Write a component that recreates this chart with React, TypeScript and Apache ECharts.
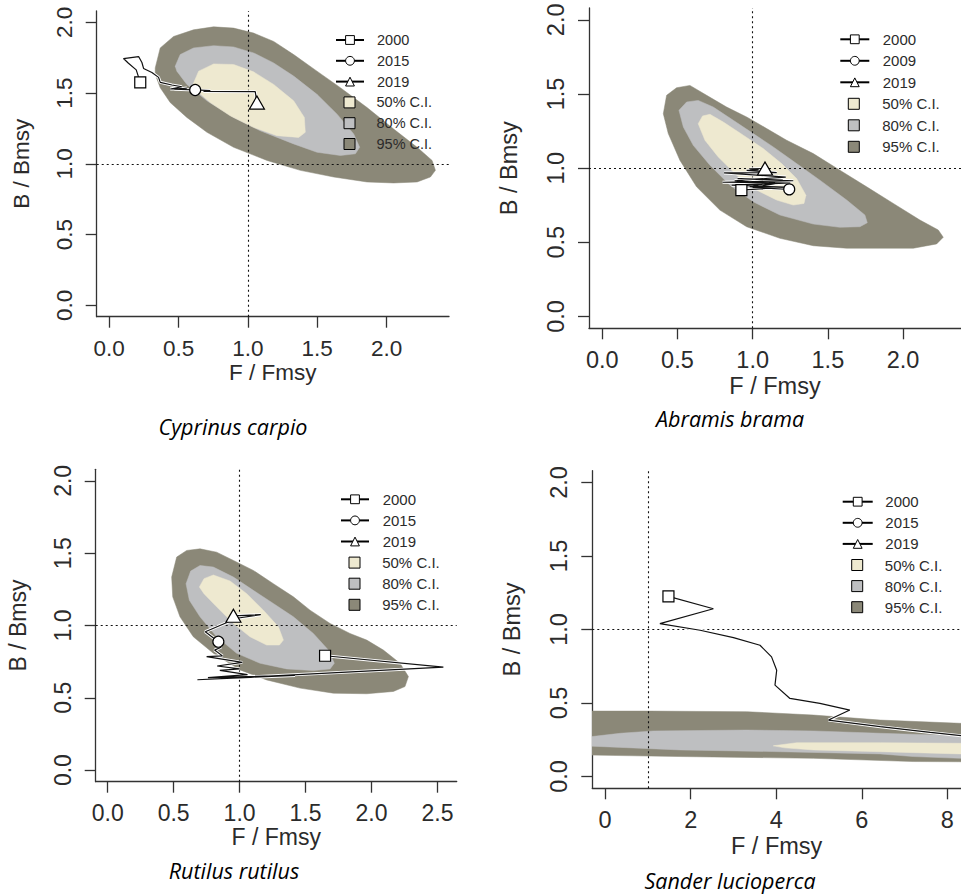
import React, { useEffect, useRef } from 'react';
import * as echarts from 'echarts';

// ---------- tick values ----------
const yTicks = [0, 0.5, 1, 1.5, 2];
const xTicksA = [0, 0.5, 1, 1.5, 2];
const xTicksB = [0, 0.5, 1, 1.5, 2];
const xTicksC = [0, 0.5, 1, 1.5, 2, 2.5];
const xTicksD = [0, 2, 4, 6, 8];

const ciNames = ['95% C.I.', '80% C.I.', '50% C.I.'];
const ciLegendOrder = ['50% C.I.', '80% C.I.', '95% C.I.'];

// ---------- Cyprinus carpio ----------
const carpioYears = ['2000', '2015', '2019'];
const carpioMarkIdx = [0, 15, 19];
const carpioTraj = [
  [0.224, 1.576], [0.195, 1.664], [0.139, 1.711], [0.103, 1.744], [0.212, 1.758],
  [0.236, 1.716], [0.248, 1.674], [0.308, 1.646], [0.356, 1.611], [0.368, 1.576],
  [0.452, 1.557], [0.524, 1.545], [0.440, 1.529], [0.560, 1.534], [0.470, 1.527],
  [0.620, 1.522], [0.729, 1.517], [0.680, 1.512], [1.053, 1.510], [1.065, 1.433],
];
const carpio95 = [
  [0.332, 1.632], [0.332, 1.678], [0.368, 1.819], [0.464, 1.900], [0.608, 1.947],
  [0.753, 1.968], [0.897, 1.959], [1.041, 1.924], [1.186, 1.865], [1.330, 1.772],
  [1.498, 1.655], [1.667, 1.538], [1.859, 1.398], [2.051, 1.246], [2.220, 1.117],
  [2.328, 1.024], [2.352, 0.954], [2.316, 0.907], [2.220, 0.872], [2.051, 0.865],
  [1.859, 0.872], [1.619, 0.907], [1.378, 0.954], [1.138, 1.024], [0.897, 1.117],
  [0.705, 1.223], [0.560, 1.328], [0.440, 1.433], [0.368, 1.538],
];
const carpio80 = [
  [0.488, 1.655], [0.476, 1.690], [0.512, 1.772], [0.608, 1.819], [0.753, 1.835],
  [0.897, 1.826], [1.041, 1.784], [1.186, 1.713], [1.330, 1.620], [1.498, 1.491],
  [1.643, 1.351], [1.763, 1.211], [1.806, 1.117], [1.775, 1.071], [1.667, 1.059],
  [1.498, 1.082], [1.330, 1.141], [1.089, 1.234], [0.897, 1.328], [0.705, 1.445],
  [0.560, 1.561],
];
const carpio50 = [
  [0.604, 1.561], [0.645, 1.655], [0.753, 1.706], [0.897, 1.702], [1.041, 1.650],
  [1.186, 1.561], [1.330, 1.445], [1.407, 1.328], [1.414, 1.223], [1.366, 1.187],
  [1.210, 1.199], [1.041, 1.258], [0.873, 1.339], [0.729, 1.433], [0.633, 1.515],
];

// ---------- Abramis brama ----------
const bramaYears = ['2000', '2009', '2019'];
const bramaMarkIdx = [0, 9, 19];
const bramaTraj = [
  [0.925, 0.852], [1.220, 0.872], [0.860, 0.885], [1.250, 0.900], [0.800, 0.905],
  [1.270, 0.915], [0.900, 0.930], [1.200, 0.920], [0.980, 0.875], [1.243, 0.857],
  [1.000, 0.870], [1.150, 0.895], [0.880, 0.915], [1.220, 0.940], [0.810, 0.968],
  [1.160, 0.970], [0.960, 0.985], [1.040, 0.990], [0.980, 0.995], [1.082, 0.998],
];
const brama95 = [
  [0.406, 1.367], [0.428, 1.491], [0.494, 1.542], [0.583, 1.558], [0.694, 1.491],
  [0.827, 1.412], [0.960, 1.345], [1.093, 1.267], [1.226, 1.188], [1.403, 1.098],
  [1.580, 0.986], [1.758, 0.874], [1.935, 0.762], [2.112, 0.650], [2.234, 0.583],
  [2.267, 0.534], [2.223, 0.489], [2.068, 0.460], [1.846, 0.460], [1.625, 0.460],
  [1.403, 0.477], [1.181, 0.527], [0.960, 0.605], [0.782, 0.717], [0.627, 0.874],
  [0.516, 1.054], [0.439, 1.233],
];
const brama80 = [
  [0.510, 1.390], [0.561, 1.446], [0.638, 1.457], [0.738, 1.412], [0.871, 1.323],
  [1.004, 1.233], [1.137, 1.143], [1.292, 1.031], [1.447, 0.919], [1.625, 0.785],
  [1.746, 0.684], [1.762, 0.632], [1.713, 0.605], [1.580, 0.601], [1.403, 0.623],
  [1.181, 0.684], [1.004, 0.773], [0.849, 0.885], [0.716, 1.020], [0.605, 1.154],
  [0.539, 1.278],
];
const brama50 = [
  [0.638, 1.300], [0.667, 1.352], [0.716, 1.363], [0.805, 1.311], [0.938, 1.222],
  [1.070, 1.132], [1.192, 1.031], [1.292, 0.930], [1.354, 0.818], [1.341, 0.762],
  [1.270, 0.751], [1.159, 0.785], [1.026, 0.852], [0.893, 0.953], [0.771, 1.076],
  [0.683, 1.188],
];

// ---------- Rutilus rutilus ----------
const rutilusYears = ['2000', '2015', '2019'];
const rutilusMarkIdx = [0, 15, 19];
const rutilusTraj = [
  [1.648, 0.791], [2.545, 0.712], [0.680, 0.625], [1.420, 0.655], [0.760, 0.640],
  [1.060, 0.660], [0.850, 0.690], [1.000, 0.700], [0.830, 0.720], [1.020, 0.745],
  [0.750, 0.785], [0.870, 0.790], [0.810, 0.830], [0.860, 0.850], [0.820, 0.870],
  [0.839, 0.888], [0.740, 0.957], [0.980, 1.050], [1.160, 1.075], [0.953, 1.067],
];
const rutilus95 = [
  [0.485, 1.335], [0.523, 1.473], [0.599, 1.519], [0.700, 1.530], [0.826, 1.507],
  [0.953, 1.450], [1.104, 1.381], [1.256, 1.289], [1.408, 1.198], [1.534, 1.106],
  [1.686, 1.014], [1.837, 0.945], [1.964, 0.899], [2.090, 0.830], [2.216, 0.739],
  [2.280, 0.647], [2.254, 0.578], [2.166, 0.544], [1.964, 0.528], [1.711, 0.532],
  [1.458, 0.567], [1.205, 0.624], [1.003, 0.693], [0.801, 0.808], [0.649, 0.922],
  [0.548, 1.060], [0.493, 1.198],
];
const rutilus80 = [
  [0.594, 1.289], [0.629, 1.376], [0.700, 1.415], [0.801, 1.404], [0.953, 1.335],
  [1.104, 1.243], [1.256, 1.152], [1.408, 1.060], [1.559, 0.945], [1.673, 0.830],
  [1.718, 0.739], [1.686, 0.700], [1.559, 0.688], [1.357, 0.700], [1.155, 0.739],
  [0.978, 0.808], [0.826, 0.922], [0.700, 1.060], [0.619, 1.175],
];
const rutilus50 = [
  [0.695, 1.266], [0.730, 1.324], [0.801, 1.349], [0.927, 1.308], [1.054, 1.220],
  [1.180, 1.106], [1.294, 0.991], [1.332, 0.899], [1.302, 0.865], [1.205, 0.865],
  [1.079, 0.922], [0.953, 1.014], [0.826, 1.129], [0.730, 1.220],
];

// ---------- Sander lucioperca ----------
const sanderYears = ['2000', '2015', '2019'];
const sanderMarkIdx = [0, 15, 19];
const sanderTraj = [
  [1.48, 1.225], [2.53, 1.141], [1.28, 1.040], [2.22, 0.995], [3.00, 0.945],
  [3.62, 0.893], [3.89, 0.814], [4.01, 0.723], [3.97, 0.622], [4.32, 0.531],
  [5.02, 0.497], [5.72, 0.452], [5.22, 0.384], [6.43, 0.339], [7.60, 0.300],
  [8.90, 0.260], [9.60, 0.240], [10.3, 0.220], [10.9, 0.210], [11.5, 0.200],
];
const sander95 = [
  [-0.6, 0.445], [1.0, 0.445], [3.31, 0.441], [4.87, 0.418], [6.43, 0.384],
  [8.29, 0.362], [8.6, 0.358], [8.6, 0.100], [7.2, 0.102], [4.87, 0.124],
  [1.75, 0.136], [-0.6, 0.147],
];
const sander80 = [
  [-0.6, 0.262], [0.35, 0.294], [1.13, 0.310], [3.31, 0.316], [4.87, 0.310],
  [6.43, 0.294], [8.29, 0.278], [8.6, 0.275], [8.6, 0.122], [8.29, 0.124],
  [7.2, 0.136], [6.43, 0.154], [4.09, 0.169], [1.75, 0.181], [-0.6, 0.210],
];
const sander50 = [
  [3.93, 0.209], [4.48, 0.230], [6.43, 0.230], [8.29, 0.226], [8.6, 0.226],
  [8.6, 0.150], [8.29, 0.154], [6.43, 0.169], [4.87, 0.181], [4.2, 0.195],
];

// ---------- panel assembly ----------
const panels = [
  { species: 'Cyprinus carpio', traj: carpioTraj, ci: [carpio95, carpio80, carpio50], years: carpioYears, marks: carpioMarkIdx, xTicks: xTicksA, xDec: 1 },
  { species: 'Abramis brama', traj: bramaTraj, ci: [brama95, brama80, brama50], years: bramaYears, marks: bramaMarkIdx, xTicks: xTicksB, xDec: 1 },
  { species: 'Rutilus rutilus', traj: rutilusTraj, ci: [rutilus95, rutilus80, rutilus50], years: rutilusYears, marks: rutilusMarkIdx, xTicks: xTicksC, xDec: 1 },
  { species: 'Sander lucioperca', traj: sanderTraj, ci: [sander95, sander80, sander50], years: sanderYears, marks: sanderMarkIdx, xTicks: xTicksD, xDec: 0 },
];

// layout (pixels) for each panel
const layouts = [
  { grid: { left: 96.7, top: 11, width: 352.3, height: 305.7 }, xMin: -0.09, xMax: 2.45, fs: 22.5, yGap: 64, xGap: 44,
    legX: 335, legW: 28, legY: 40, step: 20.8, textX: 376, boxX: 349, lfs: 14.5, sp: [233, 426] },
  { grid: { left: 589, top: 8, width: 372, height: 320.3 }, xMin: -0.088, xMax: 2.385, fs: 23.5, yGap: 68, xGap: 46,
    legX: 839.3, legW: 29, legY: 39.3, step: 21.5, textX: 881.7, boxX: 853.3, lfs: 15, sp: [730, 418] },
  { grid: { left: 95.7, top: 469.3, width: 361, height: 312.4 }, xMin: -0.091, xMax: 2.646, fs: 23, yGap: 66, xGap: 44,
    legX: 340, legW: 28, legY: 499.3, step: 21.1, textX: 381.7, boxX: 354, lfs: 15, sp: [234, 870] },
  { grid: { left: 592.3, top: 470.7, width: 368.7, height: 317.6 }, xMin: -0.3, xMax: 8.318, fs: 23.5, yGap: 68, xGap: 46,
    legX: 841.7, legW: 30, legY: 501.7, step: 21.1, textX: 884.3, boxX: 856.7, lfs: 15, sp: [730, 880] },
];

const ciColors = ['#8B8878', '#BEBFC1', '#EEE9D0'];
const symbols = ['rect', 'circle', 'triangle'];
const symbolSizes: any[] = [11, 11, [15, 13]];
const axisColor = '#333333';
const textColor = '#2b2b2b';
const font = '"Liberation Sans", Arial, sans-serif';

function buildOption() {
  const grid: any[] = [];
  const xAxis: any[] = [];
  const yAxis: any[] = [];
  const series: any[] = [];
  const legend: any[] = [];
  const graphic: any[] = [];

  panels.forEach((p, i) => {
    const L = layouts[i];
    grid.push({ ...L.grid, containLabel: false, outerBoundsMode: 'none' });
    xAxis.push({
      type: 'value', gridIndex: i, min: L.xMin, max: L.xMax,
      axisLine: { show: true, onZero: false, lineStyle: { color: axisColor, width: 1.3 } },
      axisTick: { show: true, length: 11, customValues: p.xTicks, lineStyle: { color: axisColor, width: 1.3 } },
      axisLabel: {
        show: true, customValues: p.xTicks, margin: 20, fontSize: L.fs, fontFamily: font, color: textColor,
        formatter: (v: number) => v.toFixed(p.xDec),
      },
      splitLine: { show: false },
      name: 'F / Fmsy', nameLocation: 'middle', nameGap: L.xGap,
      nameTextStyle: { fontSize: L.fs, fontFamily: font, color: textColor },
    });
    yAxis.push({
      type: 'value', gridIndex: i, min: -0.08, max: 2.08,
      axisLine: { show: true, onZero: false, lineStyle: { color: axisColor, width: 1.3 } },
      axisTick: { show: true, length: 11, customValues: yTicks, lineStyle: { color: axisColor, width: 1.3 } },
      axisLabel: {
        show: true, customValues: yTicks, margin: 21, rotate: 90, fontSize: L.fs, fontFamily: font, color: textColor,
        formatter: (v: number) => v.toFixed(1),
      },
      splitLine: { show: false },
      name: 'B / Bmsy', nameLocation: 'middle', nameGap: L.yGap, nameRotate: 90,
      nameTextStyle: { fontSize: L.fs, fontFamily: font, color: textColor },
    });

    // confidence regions
    p.ci.forEach((poly, k) => {
      series.push({
        type: 'custom', name: ciNames[k], xAxisIndex: i, yAxisIndex: i, clip: true, silent: true,
        z: 1 + k, data: poly, encode: { x: 0, y: 1 },
        itemStyle: { color: ciColors[k] },
        renderItem: (params: any, api: any) => {
          if (params.dataIndex !== 0) return null;
          const pts = poly.map((pt) => api.coord(pt));
          return { type: 'polygon', shape: { points: pts }, style: { fill: ciColors[k], stroke: ciColors[k], lineWidth: 0.5 } };
        },
      });
    });

    // trajectory (white halo + black line), reference lines
    series.push({
      type: 'line', xAxisIndex: i, yAxisIndex: i, data: p.traj, symbol: 'none', showSymbol: false, silent: true,
      clip: true, z: 6, lineStyle: { color: '#ffffff', width: 3 },
      markLine: {
        silent: true, symbol: ['none', 'none'], label: { show: false }, animation: false,
        lineStyle: { type: [2, 3], color: '#111111', width: 1.1 },
        data: [{ xAxis: 1 }, { yAxis: 1 }],
      },
    });
    series.push({
      type: 'line', xAxisIndex: i, yAxisIndex: i, data: p.traj, symbol: 'none', showSymbol: false, silent: true,
      clip: true, z: 7, lineStyle: { color: '#111111', width: 1.2 },
    });

    // year markers
    p.years.forEach((yr, k) => {
      series.push({
        type: 'line', name: yr, xAxisIndex: i, yAxisIndex: i, data: [p.traj[p.marks[k]]],
        symbol: symbols[k], symbolSize: symbolSizes[k], showSymbol: true, clip: true, silent: true, z: 8,
        itemStyle: { color: '#ffffff', borderColor: '#000000', borderWidth: 1.2 },
        lineStyle: { color: '#000000', width: 1 },
      });
    });

    const rowH = 16;
    legend.push({
      orient: 'vertical', left: L.legX, top: L.legY - rowH / 2, padding: 0, itemGap: L.step - rowH,
      itemWidth: L.legW, itemHeight: 11, selectedMode: false, data: p.years,
      itemStyle: { borderColor: '#000000', borderWidth: 1 },
      textStyle: { fontSize: L.lfs, fontFamily: font, color: textColor, lineHeight: rowH,
        padding: [0, 0, 0, L.textX - (L.legX + L.legW + 5)] },
    });
    legend.push({
      orient: 'vertical', left: L.boxX - 5.5, top: L.legY + 3 * L.step - rowH / 2, padding: 0, itemGap: L.step - rowH,
      itemWidth: 11, itemHeight: 11, icon: 'rect', selectedMode: false, data: ciLegendOrder,
      itemStyle: { borderColor: '#000000', borderWidth: 1 },
      textStyle: { fontSize: L.lfs, fontFamily: font, color: textColor, lineHeight: rowH,
        padding: [0, 0, 0, L.textX - (L.boxX + 5.5 + 5)] },
    });

    graphic.push({
      type: 'text', x: L.sp[0], y: L.sp[1], silent: true,
      style: { text: p.species, fontSize: 21.5, fontStyle: 'italic', fontFamily: '"Open Sans", "Noto Sans", sans-serif',
        fill: '#000000', align: 'center', verticalAlign: 'middle' },
    });
  });

  return { animation: false, backgroundColor: '#ffffff', grid, xAxis, yAxis, series, legend, graphic };
}

export default function App() {
  const ref = useRef<HTMLDivElement>(null);
  useEffect(() => {
    const chart = echarts.init(ref.current as HTMLDivElement, null, { renderer: 'svg' });
    chart.setOption(buildOption() as any);
    return () => chart.dispose();
  }, []);
  return <div ref={ref} style={{ position: 'absolute', left: 0, top: 0, width: 961, height: 894, background: '#fff' }} />;
}
